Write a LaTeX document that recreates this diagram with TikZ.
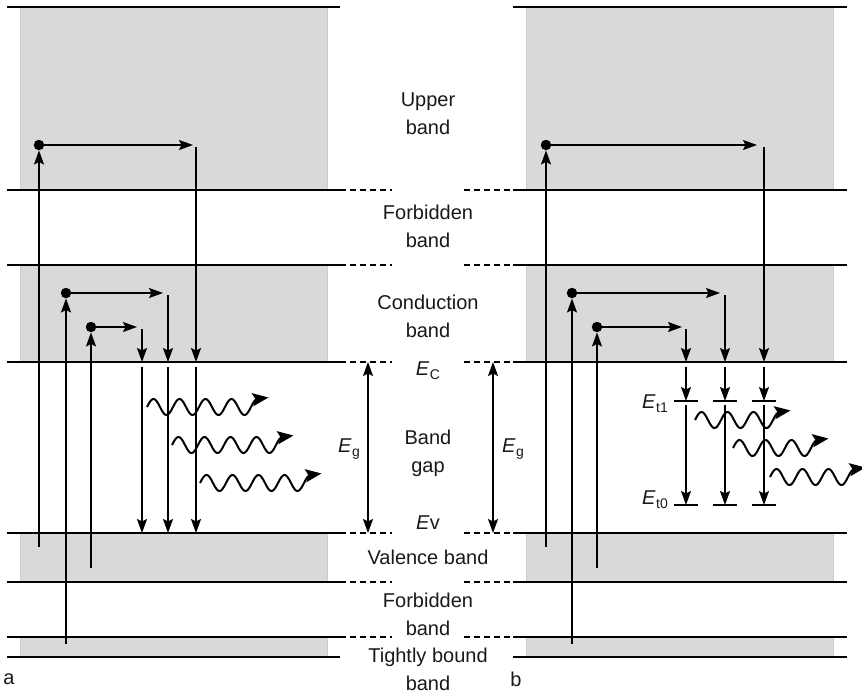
\documentclass[tikz,border=0pt]{standalone}
\usepackage{fontspec}
\setmainfont{Liberation Sans}
\usetikzlibrary{arrows.meta}

\tikzset{
  band/.style={fill=gray!30, draw=gray!40, line width=0.6pt},
  level/.style={line width=1.8pt},
  ext/.style={line width=1.8pt, dash pattern=on 6pt off 4pt},
  trans/.style={line width=1.5pt, -{Stealth[length=14pt,width=10pt,inset=2.5pt]}},
  gaparr/.style={line width=1.5pt, {Stealth[length=14pt,width=10pt,inset=2.5pt]}-{Stealth[length=14pt,width=10pt,inset=2.5pt]}},
  trap/.style={line width=1.8pt},
  dot/.style={circle, fill, inner sep=0pt, minimum size=10.5pt},
  photon/.style={line width=2pt, -{Stealth[length=16pt,width=13pt,inset=3pt]}},
  lbl/.style={align=center, font=\fontsize{20}{28}\selectfont, text=black!90},
}
% energy symbol with an upright index
\newcommand{\en}[1]{\textit{E}\kern0.5pt\raisebox{-0.4ex}{\fontsize{14}{14}\selectfont #1}}
% wavy photon: x, y, number of periods
\newcommand{\photon}[3]{%
  \draw[photon, shift={(#1,#2)}] plot[domain=0:#3, samples=140, smooth] (\x*26, {-8*sin(\x*360)}) -- ++(11,-1.5);
}

\begin{document}
\begin{tikzpicture}[x=1pt,y=-1pt]
    \useasboundingbox (0,0) rectangle (862,694);

    %%%%%%%%%%%%%%%%%%
    %%%%% Bands  %%%%%
    %%%%%%%%%%%%%%%%%%
    \foreach \dx in {0,506}{
      \draw[band] (20+\dx,7) rectangle (327+\dx,190);
      \draw[band] (20+\dx,265) rectangle (327+\dx,362);
      \draw[band] (20+\dx,533) rectangle (327+\dx,582);
      \draw[band] (20+\dx,637) rectangle (327+\dx,657);
    }

    % Band edges as solid lines
    \foreach \y in {7,190,265,362,533,582,637,657}{
      \draw[level] (7,\y) -- (340,\y);
      \draw[level] (513,\y) -- (847,\y);
    }

    % Band edges continued as dashed lines
    \foreach \y in {190,265,362,533,582,637}{
      \draw[ext] (340,\y) -- (392,\y);
      \draw[ext] (464,\y) -- (513,\y);
    }

    %%%%%%%%%%%%%%%%%%
    %%%%% Labels %%%%%
    %%%%%%%%%%%%%%%%%%
    \node[lbl] (upper) at (428,114) {Upper\\band};
    \node[lbl] (forbA) at (428,226) {Forbidden\\band};
    \node[lbl] (cond) at (428,316) {Conduction\\band};
    \node[lbl] (ec) at (428,371) {\en{C}};
    \node[lbl] (gap) at (428,453) {Band\\gap};
    \node[lbl] (ev) at (428,523) {\textit{E}v};
    \node[lbl] (val) at (428,557) {Valence band};
    \node[lbl] (forbB) at (428,614) {Forbidden\\band};
    \node[lbl] (tight) at (428,669) {Tightly bound\\band};
    \node[lbl] (pa) at (9,679) {a};
    \node[lbl] (pb) at (516,679) {b};

    % Band gap arrows
    \coordinate (gl1) at (368,362);
    \coordinate (gl2) at (368,533);
    \coordinate (gr1) at (493,362);
    \coordinate (gr2) at (493,533);
    \draw[gaparr] (gl1) -- (gl2);
    \draw[gaparr] (gr1) -- (gr2);
    \node[lbl] (egl) at (349,449) {\en{g}};
    \node[lbl] (egr) at (513,449) {\en{g}};

    %%%%%%%%%%%%%%%%%%
    %%%%% Part a %%%%%
    %%%%%%%%%%%%%%%%%%

    % Excited electrons
    \node[dot] (a1) at (39,145) {};
    \node[dot] (a2) at (66,293) {};
    \node[dot] (a3) at (91,327) {};
    \coordinate (a1') at (39,547);
    \coordinate (a2') at (66,644);
    \coordinate (a3') at (91,568);
    \draw[trans] (a1') -- (a1);
    \draw[trans] (a2') -- (a2);
    \draw[trans] (a3') -- (a3);

    % Move to the right
    \coordinate (A1) at (193,145);
    \coordinate (A2) at (163,293);
    \coordinate (A3) at (137,327);
    \draw[trans] (a1) -- (A1);
    \draw[trans] (a2) -- (A2);
    \draw[trans] (a3) -- (A3);

    % Fall down to the conduction band edge, then to the valence band
    \foreach \x/\y in {196/147, 168/295, 142/329}{
      \coordinate (top) at (\x,\y);
      \coordinate (c) at (\x,362);
      \coordinate (c') at (\x,367);
      \coordinate (v) at (\x,533);
      \draw[trans] (top) -- (c);
      \draw[trans] (c') -- (v);
    }

    % Emitted light
    \photon{147}{407}{4.25}
    \photon{172}{445}{4.25}
    \photon{200}{483}{4.25}

    %%%%%%%%%%%%%%%%%%
    %%%%% Part b %%%%%
    %%%%%%%%%%%%%%%%%%

    % Excited electrons
    \node[dot] (b1) at (546,145) {};
    \node[dot] (b2) at (572,293) {};
    \node[dot] (b3) at (597,327) {};
    \coordinate (b1') at (546,547);
    \coordinate (b2') at (572,644);
    \coordinate (b3') at (597,568);
    \draw[trans] (b1') -- (b1);
    \draw[trans] (b2') -- (b2);
    \draw[trans] (b3') -- (b3);

    % Move to the right
    \coordinate (B1) at (757,145);
    \coordinate (B2) at (720,293);
    \coordinate (B3) at (682,327);
    \draw[trans] (b1) -- (B1);
    \draw[trans] (b2) -- (B2);
    \draw[trans] (b3) -- (B3);

    % Fall down through the trap levels
    \foreach \x/\y in {764/147, 725/295, 686/329}{
      \coordinate (top) at (\x,\y);
      \coordinate (c) at (\x,362);
      \coordinate (c') at (\x,367);
      \coordinate (t1) at (\x,401);
      \coordinate (t1') at (\x,405);
      \coordinate (t0) at (\x,505);
      \draw[trans] (top) -- (c);
      \draw[trans] (c') -- (t1);
      \draw[trans] (t1') -- (t0);
      \draw[trap] ([xshift=-12pt]t1) -- ([xshift=12pt]t1);
      \draw[trap] ([xshift=-12pt]t0) -- ([xshift=12pt]t0);
    }
    \node[lbl] (et1) at (655,404) {\en{t1}};
    \node[lbl] (et0) at (655,500) {\en{t0}};

    % Emitted light
    \photon{695}{420}{3.25}
    \photon{733}{448}{3.25}
    \photon{770}{477}{3.25}

\end{tikzpicture}
\end{document}
